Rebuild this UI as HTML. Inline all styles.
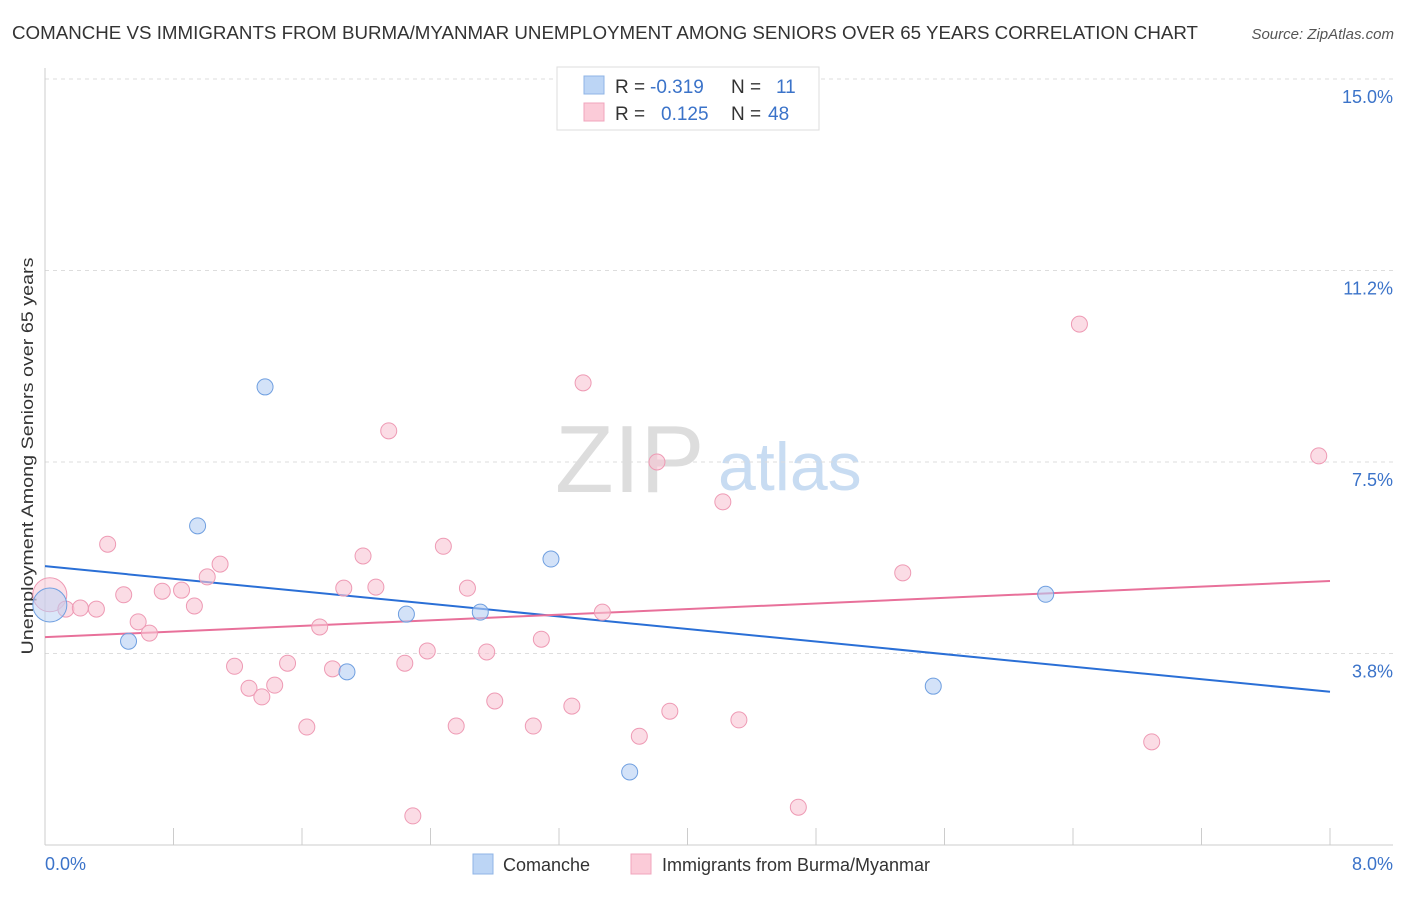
<!DOCTYPE html>
<html><head><meta charset="utf-8">
<style>
body{margin:0;background:#fff;font-family:"Liberation Sans",sans-serif;}
svg text{font-family:"Liberation Sans",sans-serif;}
</style></head>
<body>
<svg id="chart" width="1406" height="892" xmlns="http://www.w3.org/2000/svg">
<text x="12" y="39" font-size="18" fill="#333" textLength="1186" lengthAdjust="spacingAndGlyphs">COMANCHE VS IMMIGRANTS FROM BURMA/MYANMAR UNEMPLOYMENT AMONG SENIORS OVER 65 YEARS CORRELATION CHART</text>
<text x="1394" y="39" font-size="15" fill="#555" text-anchor="end" font-style="italic">Source: ZipAtlas.com</text>
<text x="555" y="492" font-size="96" fill="#ddd" font-family="Liberation Serif">ZIP</text>
<text x="718" y="490" font-size="68" fill="#c8dcf2">atlas</text>
<text transform="translate(33,456) rotate(-90)" font-size="17" fill="#333" text-anchor="middle" textLength="397" lengthAdjust="spacingAndGlyphs">Unemployment Among Seniors over 65 years</text>
<g id="grid"></g><g id="axes"></g><g id="trend"></g><g id="pts"></g>
<g>
<rect x="557" y="67" width="262" height="63" fill="#fff" stroke="#ddd"/>
<rect x="584" y="76" width="20" height="18" fill="#bcd5f5" stroke="#8fb4e6"/>
<rect x="584" y="103" width="20" height="18" fill="#fbcbd8" stroke="#f0a5bd"/>
<text x="615" y="93" font-size="19" fill="#333">R = </text><text x="650" y="93" font-size="19" fill="#3b73c9">-0.319</text>
<text x="731" y="93" font-size="19" fill="#333">N = </text><text x="776" y="93" font-size="19" fill="#3b73c9">11</text>
<text x="615" y="120" font-size="19" fill="#333">R = </text><text x="661" y="120" font-size="19" fill="#3b73c9">0.125</text>
<text x="731" y="120" font-size="19" fill="#333">N = </text><text x="768" y="120" font-size="19" fill="#3b73c9">48</text>
</g>
<g>
<rect x="473" y="854" width="20" height="20" fill="#bcd5f5" stroke="#8fb4e6"/>
<text x="503" y="871" font-size="18" fill="#333">Comanche</text>
<rect x="631" y="854" width="20" height="20" fill="#fbcbd8" stroke="#f0a5bd"/>
<text x="662" y="871" font-size="18" fill="#333">Immigrants from Burma/Myanmar</text>
</g>
</svg>
<script>
const yTicks=[15.0,11.2,7.5,3.8];
const yTickVals=[15,11.25,7.5,3.75];
const xLabels=["0.0%","8.0%"];
const comancheX=[0.03,0.52,1.37,0.95,1.88,2.25,2.71,3.15,3.64,5.53,6.23];
const comancheY=[4.70,3.99,8.97,6.25,3.39,4.52,4.56,5.60,1.43,3.11,4.91];
const burmaX=[0.03,0.13,0.22,0.32,0.39,0.49,0.58,0.65,0.73,0.85,0.93,1.01,1.09,1.18,1.27,1.35,1.43,1.51,1.63,1.71,1.79,1.86,1.98,2.06,2.14,2.24,2.29,2.38,2.48,2.56,2.63,2.75,2.80,3.04,3.09,3.28,3.35,3.47,3.70,3.81,3.89,4.22,4.32,4.69,5.34,6.44,6.89,7.93];
const burmaY=[4.90,4.62,4.64,4.62,5.89,4.90,4.37,4.15,4.97,4.99,4.68,5.25,5.50,3.50,3.07,2.90,3.13,3.56,2.31,4.27,3.45,5.03,5.66,5.05,8.11,3.56,0.57,3.80,5.85,2.33,5.03,3.78,2.82,2.33,4.03,2.72,9.05,4.56,2.13,7.50,2.62,6.72,2.45,0.74,5.33,10.20,2.02,7.62];
const comancheTrend=[5.46,3.00];
const burmaTrend=[4.07,5.17];
const NS="http://www.w3.org/2000/svg";
const X=v=>45+v*(1285/8);
const Y=v=>845-v*(766/15);
function mk(tag,attrs,parent){const e=document.createElementNS(NS,tag);for(const k in attrs)e.setAttribute(k,attrs[k]);document.getElementById(parent).appendChild(e);return e;}
yTickVals.forEach((v,i)=>{
 const l=mk('line',{x1:45,x2:1393,y1:Y(v),y2:Y(v),stroke:'#ddd','stroke-dasharray':'4,4'},'grid');
 
 
 const t=mk('text',{x:1393,y:Y(v)+24,'font-size':18,fill:'#3b73c9','text-anchor':'end'},'grid');
 t.textContent=yTicks[i].toFixed(1)+'%';
 
 
});
let a=mk('line',{x1:45,x2:45,y1:68,y2:845,stroke:'#ccc'},'axes');


a=mk('line',{x1:45,x2:1393,y1:845,y2:845,stroke:'#ccc'},'axes');


for(let i=0;i<=10;i++){
 const t=mk('line',{x1:X(i*0.8),x2:X(i*0.8),y1:828,y2:845,stroke:'#ccc'},'axes');
 
 
}
let xl=mk('text',{x:45,y:870,'font-size':18,fill:'#3b73c9'},'axes');xl.textContent=xLabels[0];


xl=mk('text',{x:1393,y:870,'font-size':18,fill:'#3b73c9','text-anchor':'end'},'axes');xl.textContent=xLabels[1];


function pts(xs,ys,fill,stroke,name){
 xs.forEach((x,i)=>{
  const c=mk('circle',{cx:X(x),cy:Y(ys[i]),r:i===0?17:8,fill:fill,'fill-opacity':i===0?0.5:0.6,stroke:stroke,'stroke-width':1},'pts');
  
  
 });
}
pts(burmaX,burmaY,'#f9c4d3','#ee9ab4','point-burma');
pts(comancheX,comancheY,'#b5cff3','#6f9fe0','point-comanche');
let tl=mk('line',{x1:X(0),x2:X(8),y1:Y(comancheTrend[0]),y2:Y(comancheTrend[1]),stroke:'#2a6fd6','stroke-width':2},'trend');


tl=mk('line',{x1:X(0),x2:X(8),y1:Y(burmaTrend[0]),y2:Y(burmaTrend[1]),stroke:'#e8709a','stroke-width':2},'trend');


</script>
</body></html>
